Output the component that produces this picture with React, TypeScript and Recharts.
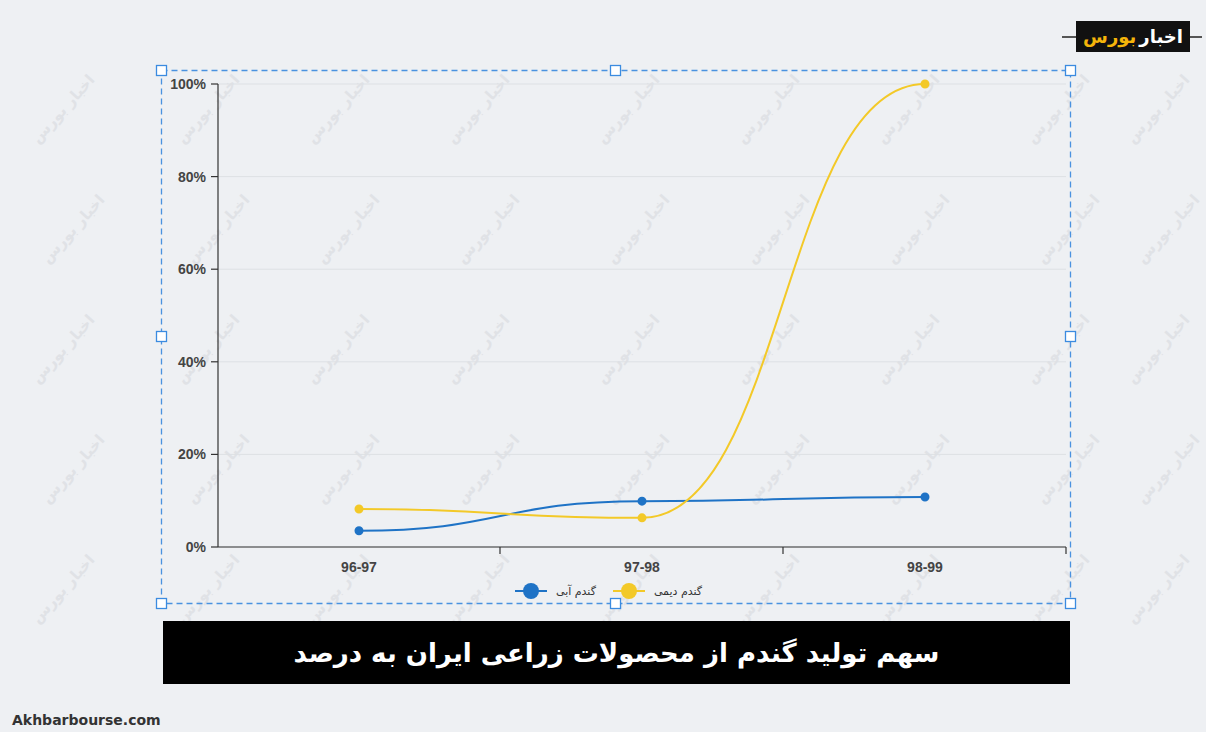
import React from 'react';
import { LineChart, Line, XAxis, YAxis, CartesianGrid, Legend } from 'recharts';

const categories = ['96-97', '97-98', '98-99'];
const abi = [3.5, 9.9, 10.8];
const dimi = [8.2, 6.3, 100];
const yTicks = [0, 20, 40, 60, 80, 100];

const seriesNames = { abi: 'گندم آبی', dimi: 'گندم دیمی' };
const titleText = 'سهم تولید گندم از محصولات زراعی ایران به درصد';
const watermark = 'اخبار بورس';

const data = categories.map((c, i) => ({ name: c, abi: abi[i], dimi: dimi[i] }));

const BLUE = '#1f73c6';
const YELLOW = '#f3c928';
const HALF_BAND = 141;

const XTick = (props: any) => {
  const { x, y, payload } = props;
  return (
    <g>
      <line x1={x + HALF_BAND} y1={y - 8} x2={x + HALF_BAND} y2={y - 1} stroke="#333" strokeWidth={1.2} />
      <text x={x} y={y + 17} textAnchor="middle" fill="#444" fontSize={14} fontWeight={600}
        fontFamily="'Liberation Sans', Arial, sans-serif">
        {payload.value}
      </text>
    </g>
  );
};

const LegendContent = (props: any) => {
  const items = props.payload || [];
  return (
    <div style={{ display: 'flex', justifyContent: 'center', alignItems: 'center', gap: 16, paddingTop: 4 }}>
      {items.map((it: any) => (
        <div key={it.value} style={{ display: 'flex', alignItems: 'center', gap: 8 }}>
          <svg width={34} height={20}>
            <line x1={1} y1={10} x2={33} y2={10} stroke={it.color} strokeWidth={2} />
            <circle cx={17} cy={10} r={8} fill={it.color} />
          </svg>
          <span style={{ fontSize: 11, color: '#333', fontFamily: "'DejaVu Sans', sans-serif" }}>{it.value}</span>
        </div>
      ))}
    </div>
  );
};

const handles = [
  [161, 70], [615, 70], [1070, 70],
  [161, 336], [1070, 336],
  [161, 603], [615, 603], [1070, 603],
];

const wmRows = [110, 230, 350, 470, 590];
const wmCols = [55, 200, 330, 470, 620, 760, 900, 1050, 1150];

export default function App() {
  return (
    <div style={{ position: 'absolute', left: 0, top: 0, width: 1206, height: 732, background: '#eef0f3', overflow: 'hidden' }}>
      {/* watermark */}
      {wmRows.map((wy, r) => wmCols.map((wx, c) => (
        <div key={`${r}-${c}`} style={{ position: 'absolute', left: wx - 35 + (r % 2) * 10, top: wy - 10, transform: 'rotate(-48deg)', color: '#e0e2e6', fontSize: 15, fontWeight: 'bold', fontFamily: "'DejaVu Sans', sans-serif", whiteSpace: 'nowrap' }}>
          {watermark}
        </div>
      )))}

      {/* selection frame */}
      <svg style={{ position: 'absolute', left: 0, top: 0 }} width={1206} height={732}>
        <rect x={161.5} y={70.5} width={909} height={533} fill="none" stroke="#4a92e0" strokeWidth={1.3} strokeDasharray="6 4" />
        {handles.map(([hx, hy], i) => (
          <rect key={i} x={hx - 4.5} y={hy - 4.5} width={10} height={10} fill="#fff" stroke="#3b8be0" strokeWidth={1.3} />
        ))}
      </svg>

      <div style={{ position: 'absolute', left: 150, top: 70 }}>
        <LineChart width={930} height={540} data={data} margin={{ top: 14, right: 14, left: 0, bottom: 3 }}>
          <CartesianGrid vertical={false} stroke="#dde0e4" />
          <XAxis dataKey="name" padding={{ left: HALF_BAND, right: HALF_BAND }} stroke="#333" strokeWidth={1.2}
            tickLine={false} tick={<XTick />} height={30} interval={0} />
          <YAxis domain={[0, 100]} ticks={yTicks} width={68} stroke="#333" strokeWidth={1.2}
            tickSize={7} tickMargin={5} tickFormatter={(v: number) => `${v}%`}
            tick={{ fill: '#444', fontSize: 14, fontWeight: 600, fontFamily: "'Liberation Sans', Arial, sans-serif" }} />
          <Legend verticalAlign="bottom" height={30} content={<LegendContent />} />
          <Line type="bumpX" dataKey="abi" name={seriesNames.abi} stroke={BLUE} strokeWidth={2}
            dot={{ r: 3.5, fill: BLUE, stroke: BLUE }} isAnimationActive={false} />
          <Line type="bumpX" dataKey="dimi" name={seriesNames.dimi} stroke={YELLOW} strokeWidth={2}
            dot={{ r: 3.5, fill: YELLOW, stroke: YELLOW }} isAnimationActive={false} />
        </LineChart>
      </div>

      {/* title banner */}
      <div style={{ position: 'absolute', left: 163, top: 621, width: 907, height: 63, background: '#000', display: 'flex', alignItems: 'center', justifyContent: 'center' }}>
        <span dir="rtl" style={{ color: '#fff', fontSize: 26, fontWeight: 'bold', fontFamily: "'DejaVu Sans', sans-serif" }}>{titleText}</span>
      </div>

      {/* logo */}
      <div style={{ position: 'absolute', left: 1062, top: 36, width: 140, height: 2, background: '#555' }} />
      <div dir="rtl" style={{ position: 'absolute', left: 1076, top: 21, width: 114, height: 31, background: '#111', display: 'flex', alignItems: 'center', justifyContent: 'center', gap: 3, fontFamily: "'DejaVu Sans', sans-serif", fontWeight: 'bold', fontSize: 18 }}>
        <span style={{ color: '#fff' }}>اخبار</span>
        <span style={{ color: '#f5b50a' }}>بورس</span>
      </div>

      <div style={{ position: 'absolute', left: 12, top: 712, fontSize: 14, fontWeight: 'bold', color: '#333', fontFamily: "'DejaVu Sans', sans-serif" }}>Akhbarbourse.com</div>
    </div>
  );
}
